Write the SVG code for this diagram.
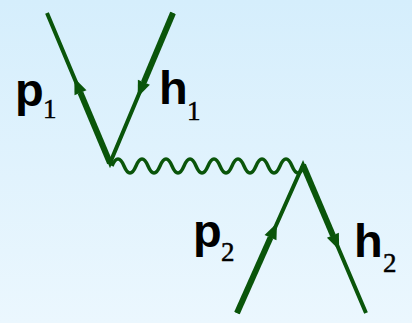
<svg xmlns="http://www.w3.org/2000/svg" width="412" height="323" viewBox="0 0 412 323">
  <defs>
    <linearGradient id="bg" x1="0" y1="0" x2="0" y2="1">
      <stop offset="0" stop-color="#d5eefc"/>
      <stop offset="1" stop-color="#ebf7fe"/>
    </linearGradient>
    <marker id="arr" markerUnits="userSpaceOnUse" markerWidth="20" markerHeight="16" refX="0" refY="7" orient="auto" viewBox="0 0 20 14" overflow="visible">
      <path d="M0,0.5 L16,7 L0,13.5 z" fill="#0a550a"/>
    </marker>
  </defs>
  <style>
    .thin { stroke:#0a550a; stroke-width:4; fill:none; stroke-linejoin:miter; }
    .thick { stroke:#0a550a; stroke-width:6; fill:none; marker-end:url(#arr); }
    .wave { stroke:#0a550a; stroke-width:3.5; fill:none; }
    .lbl { font-family:"Liberation Sans", Arial, sans-serif; font-weight:bold; font-size:47px; fill:#000; }
    .sub { font-family:"Liberation Serif", "Times New Roman", serif; font-size:27px; fill:#000; stroke:#000; stroke-width:0.5; }
  </style>
  <rect width="412" height="323" fill="url(#bg)"/>
  <g id="connectors">
    <path id="photon" class="wave" d="M112,166 Q118,152 124,166 T136,166 T148,166 T160,166 T172,166 T184,166 T196,166 T208,166 T220,166 T232,166 T244,166 T256,166 T268,166 T280,166 T292,166 T304,166"/>
  </g>
  <g id="vertex1">
    <path class="thin" d="M47,13 L110,163 L173,13"/>
    <line id="p1-line" class="thick" x1="110" y1="163" x2="80.5" y2="92.8"/>
    <line id="h1-line" class="thick" x1="173" y1="13" x2="143.9" y2="82.2"/>
  </g>
  <g id="vertex2">
    <path class="thin" d="M237,313 L303,165 L366,313"/>
    <line id="p2-line" class="thick" x1="237" y1="313" x2="270.5" y2="237.6"/>
    <line id="h2-line" class="thick" x1="303" y1="165" x2="332.9" y2="235.3"/>
  </g>
  <g id="label-p1"><text class="lbl" x="15" y="106">p</text><text class="sub" x="43" y="118">1</text></g>
  <g id="label-h1"><text class="lbl" x="159" y="104">h</text><text class="sub" x="187" y="120">1</text></g>
  <g id="label-p2"><text class="lbl" x="193" y="247">p</text><text class="sub" x="221" y="261">2</text></g>
  <g id="label-h2"><text class="lbl" x="354" y="257">h</text><text class="sub" x="383" y="272">2</text></g>
</svg>
